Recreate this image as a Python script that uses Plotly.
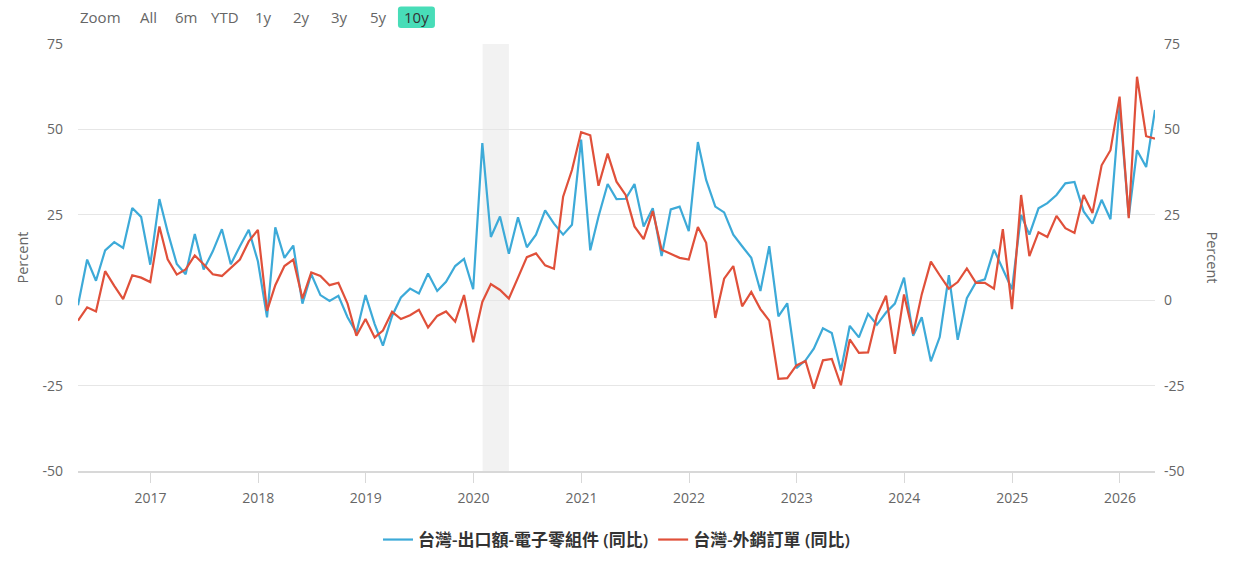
import pandas as pd
import plotly.graph_objects as go

# Monthly observations, month-end dates (Apr 2016 .. Apr 2026)
dates = pd.date_range("2016-04-30", periods=121, freq="ME")

electronics_yoy = [
    -1.5, 11.9, 5.7, 14.6, 17.0, 15.3, 27.0, 24.4, 10.4, 29.6,
    20.0, 10.6, 7.6, 19.4, 9.0, 14.3, 20.8, 10.5, 15.8, 20.6,
    11.4, -5.0, 21.3, 12.4, 16.0, -1.0, 7.6, 1.5, -0.2, 1.3,
    -5.0, -9.5, 1.5, -7.0, -13.3, -4.6, 0.8, 3.4, 2.0, 7.8,
    2.7, 5.4, 10.0, 12.1, 3.2, 46.0, 18.5, 24.5, 13.6, 24.3,
    15.5, 19.2, 26.3, 22.4, 19.2, 22.1, 47.0, 14.6, 24.5, 34.0,
    29.6, 29.7, 34.0, 21.6, 26.9, 12.9, 26.6, 27.4, 20.2, 46.3,
    35.2, 27.4, 25.7, 19.2, 15.8, 12.4, 2.7, 15.8, -4.7, -0.9,
    -19.9, -17.6, -14.2, -8.2, -9.6, -20.6, -7.5, -10.9, -4.0, -7.2,
    -3.6, -1.0, 6.6, -10.4, -5.0, -17.9, -10.8, 7.3, -11.6, 0.6,
    5.3, 6.1, 14.8, 9.0, 3.2, 25.0, 19.2, 26.9, 28.4, 30.8,
    34.2, 34.6, 26.0, 22.4, 29.4, 23.7, 57.0, 24.5, 43.9, 39.0,
    55.7,
]

export_orders_yoy = [
    -6.0, -2.1, -3.3, 8.5, 4.2, 0.3, 7.3, 6.6, 5.3, 21.6,
    12.0, 7.5, 9.0, 13.1, 10.5, 7.6, 7.1, 9.5, 11.9, 17.2,
    20.6, -3.1, 4.4, 10.0, 11.9, 0.5, 8.1, 7.1, 4.4, 5.1,
    -1.0, -10.4, -5.5, -10.9, -8.9, -3.4, -5.5, -4.4, -2.8, -8.0,
    -4.6, -3.3, -6.3, 1.5, -12.3, -0.5, 4.7, 3.0, 0.5, 6.6,
    12.6, 13.7, 10.2, 9.2, 30.3, 38.1, 49.2, 48.3, 33.5, 42.9,
    34.7, 30.8, 21.6, 17.9, 26.1, 14.8, 13.7, 12.4, 11.9, 21.4,
    16.8, -5.2, 6.3, 10.0, -1.8, 2.4, -2.6, -6.0, -23.0, -22.8,
    -19.1, -17.8, -25.9, -17.6, -17.2, -24.9, -11.5, -15.4, -15.3, -4.6,
    1.3, -15.7, 1.7, -9.9, 1.7, 11.3, 7.3, 3.4, 5.3, 9.3,
    5.1, 5.1, 3.4, 20.8, -2.6, 30.8, 12.9, 19.9, 18.5, 24.7,
    21.1, 19.7, 30.8, 25.5, 39.5, 43.9, 59.6, 24.0, 65.4, 48.0,
    47.3,
]

series_names = ["台灣-出口額-電子零組件 (同比)", "台灣-外銷訂單 (同比)"]
y_ticks = [-50, -25, 0, 25, 50, 75]
y_tick_labels = ["-50", "-25", "0", "25", "50", "75"]
recession = ("2020-02-01", "2020-04-30")
range_buttons = ["All", "6m", "YTD", "1y", "2y", "3y", "5y", "10y"]
active_button = "10y"

BLUE = "#3DAAD8"
RED = "#E0503A"
TEAL = "#48DDB8"
FONT = "Open Sans, Noto Sans CJK TC, sans-serif"
GRID = "#E6E6E6"

W, H = 1234, 576
ML, MR, MT, MB = 78, 79, 44, 105
PW, PH = W - ML - MR, H - MT - MB


def px_x(px):
    return (px - ML) / PW


def px_y(py):
    return (H - MB - py) / PH


fig = go.Figure()
fig.add_trace(go.Scatter(x=dates, y=electronics_yoy, name=series_names[0],
                         mode="lines", line=dict(color=BLUE, width=2.2)))
fig.add_trace(go.Scatter(x=dates, y=export_orders_yoy, name=series_names[1],
                         mode="lines", line=dict(color=RED, width=2.2)))
# invisible trace so the right axis is rendered with identical scale
fig.add_trace(go.Scatter(x=[dates[0]], y=[0], yaxis="y2", mode="markers",
                         marker=dict(opacity=0), showlegend=False, hoverinfo="skip"))

fig.add_shape(type="rect", xref="x", yref="paper", x0=recession[0], x1=recession[1],
              y0=0, y1=1, fillcolor="#F2F2F2", line=dict(width=0), layer="below")

# range-selector look (Zoom label + buttons)
annotations = [
    dict(text="Zoom", xref="paper", yref="paper", x=px_x(100), y=px_y(16.5),
         xanchor="center", yanchor="middle", showarrow=False,
         font=dict(size=15, color="#666666", family=FONT)),
]
btn_x0, btn_pitch = 148, 38.35
for k, lab in enumerate(range_buttons):
    cx = btn_x0 + k * btn_pitch
    if lab == active_button:
        x0, x1 = px_x(cx - 18.5), px_x(cx + 18.5)
        y0, y1 = px_y(28), px_y(6.5)
        rx, ry = 3 / PW, 3 / PH
        path = (f"M{x0 + rx},{y0} L{x1 - rx},{y0} Q{x1},{y0} {x1},{y0 + ry} "
                f"L{x1},{y1 - ry} Q{x1},{y1} {x1 - rx},{y1} L{x0 + rx},{y1} "
                f"Q{x0},{y1} {x0},{y1 - ry} L{x0},{y0 + ry} Q{x0},{y0} {x0 + rx},{y0} Z")
        fig.add_shape(type="path", xref="paper", yref="paper", path=path,
                      fillcolor=TEAL, line=dict(width=0), layer="above")
    annotations.append(dict(
        text=lab, xref="paper", yref="paper", x=px_x(cx), y=px_y(16.5),
        xanchor="center", yanchor="middle", showarrow=False,
        font=dict(size=15, color="#333333" if lab == active_button else "#666666", family=FONT)))

annotations += [
    dict(text="Percent", xref="paper", yref="paper", x=px_x(22), y=0.5,
         xanchor="center", yanchor="middle", textangle=-90, showarrow=False,
         font=dict(size=14.5, color="#666666", family=FONT)),
    dict(text="Percent", xref="paper", yref="paper", x=px_x(1212), y=0.5,
         xanchor="center", yanchor="middle", textangle=90, showarrow=False,
         font=dict(size=14.5, color="#666666", family=FONT)),
]

x_start = dates[0].strftime("%Y-%m-%d")
x_end = dates[-1].strftime("%Y-%m-%d")

fig.update_layout(
    width=W, height=H,
    margin=dict(l=ML, r=MR, t=MT, b=MB),
    paper_bgcolor="white", plot_bgcolor="white",
    font=dict(family=FONT, color="#666666", size=14),
    showlegend=True,
    legend=dict(orientation="h", x=0.5, xanchor="center", y=px_y(540), yanchor="middle",
                font=dict(size=17, color="#333333", family=FONT, weight=600),
                itemwidth=30, traceorder="normal"),
    hovermode="x unified",
    xaxis=dict(
        type="date", range=[x_start, x_end],
        showgrid=False, showline=True, linecolor="#D8D8D8", linewidth=1.5,
        ticks="outside", ticklen=10, tickcolor="#D8D8D8", tickwidth=1,
        dtick="M12", tick0="2017-01-01", tickformat="%Y",
        tickfont=dict(size=14, color="#666666"),
        ticklabelstandoff=3,
    ),
    yaxis=dict(
        range=[-50, 75], tickvals=y_ticks, ticktext=y_tick_labels,
        showgrid=True, gridcolor=GRID, gridwidth=1,
        zeroline=False, showline=False, ticks="",
        tickfont=dict(size=14, color="#666666"), ticklabelstandoff=14,
    ),
    yaxis2=dict(
        range=[-50, 75], tickvals=y_ticks, ticktext=y_tick_labels,
        overlaying="y", side="right",
        showgrid=False, zeroline=False, showline=False, ticks="",
        tickfont=dict(size=14, color="#666666"), ticklabelstandoff=8,
    ),
    annotations=annotations,
)

fig.write_html("out.html", config={"displayModeBar": False},
               post_script="document.body.style.margin='0';")
